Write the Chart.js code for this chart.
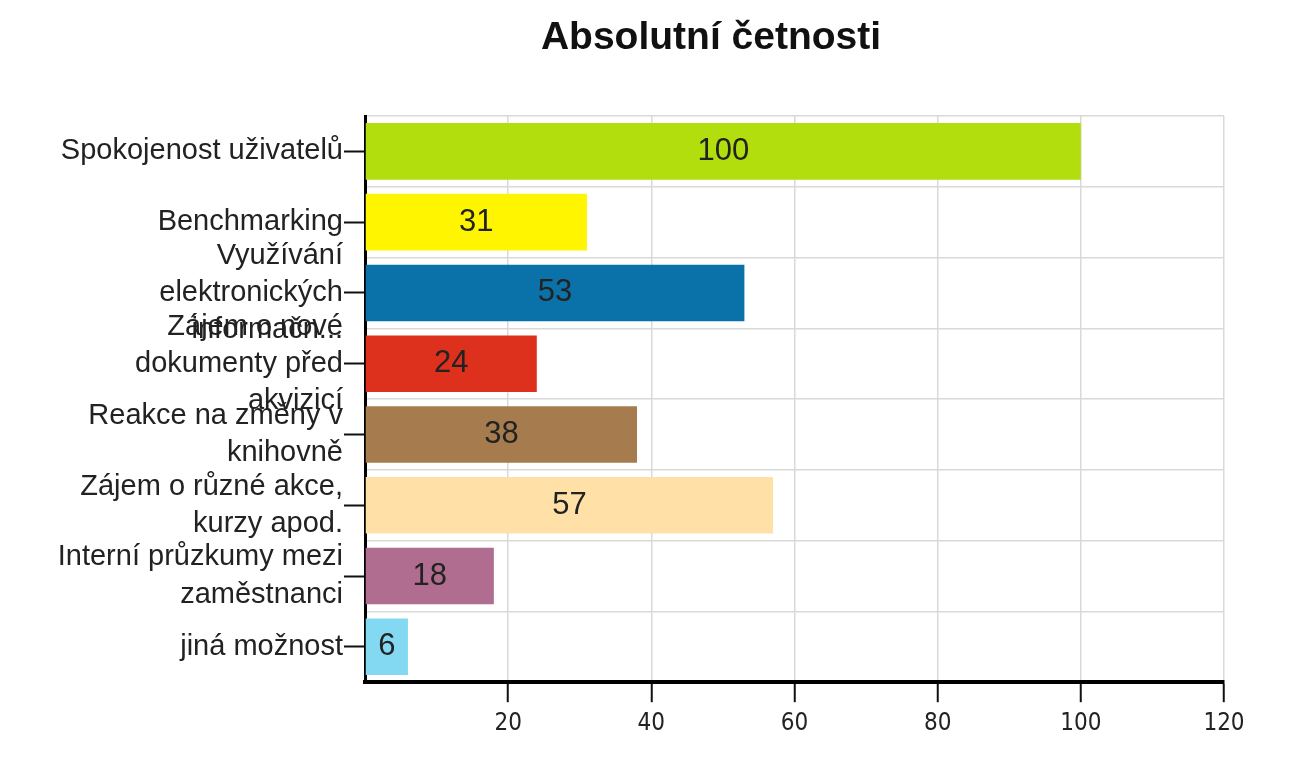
<!DOCTYPE html>
<html lang="cs">
<head>
  <meta charset="UTF-8">
  <title>Absolutní četnosti</title>
  <script src="https://cdn.jsdelivr.net/npm/chart.js"></script>
  <style>
    body {
      margin: 0;
      background: #ffffff;
      font-family: 'Liberation Sans', Arial, sans-serif;
    }

    .wrap {
      position: relative;
      width: 1310px;
      height: 781px;
    }

    h2 {
      position: absolute;
      top: 16px;
      left: 711px;
      transform: translateX(-50%);
      margin: 0;
      font-size: 39px;
      line-height: 1;
      font-weight: bold;
      color: #111;
      white-space: nowrap;
    }
  </style>
</head>
<body>

<div class="wrap">
  <h2>Absolutní četnosti</h2>
  <canvas id="chart"></canvas>
</div>

<script>
  const categories = [
    'Spokojenost uživatelů',
    'Benchmarking',
    ['Využívání', 'elektronických', 'informačn...'],
    ['Zájem o nové', 'dokumenty před', 'akvizicí'],
    ['Reakce na změny v', 'knihovně'],
    ['Zájem o různé akce,', 'kurzy apod.'],
    ['Interní průzkumy mezi', 'zaměstnanci'],
    'jiná možnost'
  ];
  const values = [100, 31, 53, 24, 38, 57, 18, 6];
  const barColors = ['#b1de0c', '#fff500', '#0a72a8', '#dd311d', '#a67c4e', '#ffe1a8', '#b06d8f', '#84d9f2'];
  const xTickValues = [0, 20, 40, 60, 80, 100, 120];

  // value printed in the middle of each bar
  const valueLabels = {
    id: 'valueLabels',
    afterDatasetsDraw(chart) {
      const ctx = chart.ctx;
      const meta = chart.getDatasetMeta(0);
      ctx.save();
      ctx.font = '31px "Liberation Sans", Arial, sans-serif';
      ctx.fillStyle = '#222';
      ctx.textAlign = 'center';
      ctx.textBaseline = 'middle';
      meta.data.forEach((bar, i) => {
        ctx.fillText(values[i], (bar.x + bar.base) / 2, bar.y);
      });
      ctx.restore();
    }
  };

  new Chart(document.getElementById('chart').getContext('2d'), {
    type: 'bar',
    data: {
      labels: categories,
      datasets: [{
        data: values,
        backgroundColor: barColors,
        borderWidth: 0,
        categoryPercentage: 1,
        barPercentage: 0.8
      }]
    },
    options: {
      indexAxis: 'y',
      responsive: true,
      maintainAspectRatio: false,
      animation: false,
      layout: {
        padding: { top: 116, right: 86, bottom: 36, left: 0 }
      },
      plugins: {
        legend: { display: false },
        title: { display: false },
        tooltip: { enabled: false }
      },
      scales: {
        x: {
          type: 'linear',
          min: xTickValues[0],
          max: xTickValues[xTickValues.length - 1],
          ticks: {
            stepSize: 20,
            padding: 7,
            color: '#222',
            font: { family: '"Liberation Sans Narrow", "DejaVu Sans Condensed", "Liberation Sans", Arial', size: 24 },
            callback: v => (v === 0 ? '' : v)
          },
          grid: {
            color: '#d9d9d9',
            lineWidth: 1.5,
            tickLength: 20,
            tickColor: c => (c.tick && c.tick.value === 0 ? 'rgba(0,0,0,0)' : '#111'),
            tickWidth: 2
          },
          border: { color: '#000', width: 4 }
        },
        y: {
          type: 'category',
          offset: true,
          afterFit(scale) { scale.width = 365; },
          ticks: {
            autoSkip: false,
            padding: 1,
            color: '#222',
            font: { family: '"Liberation Sans", Arial', size: 29, lineHeight: 1.28 }
          },
          grid: {
            offset: false,
            drawOnChartArea: false,
            tickLength: 21,
            tickColor: '#111',
            tickWidth: 2
          },
          border: { color: '#000', width: 3 }
        },
        y2: {
          type: 'category',
          position: 'left',
          offset: true,
          ticks: { display: false },
          grid: {
            offset: true,
            drawTicks: false,
            color: '#d9d9d9',
            lineWidth: 1.5
          },
          border: { display: false }
        }
      }
    },
    plugins: [valueLabels]
  });
</script>

</body>
</html>
